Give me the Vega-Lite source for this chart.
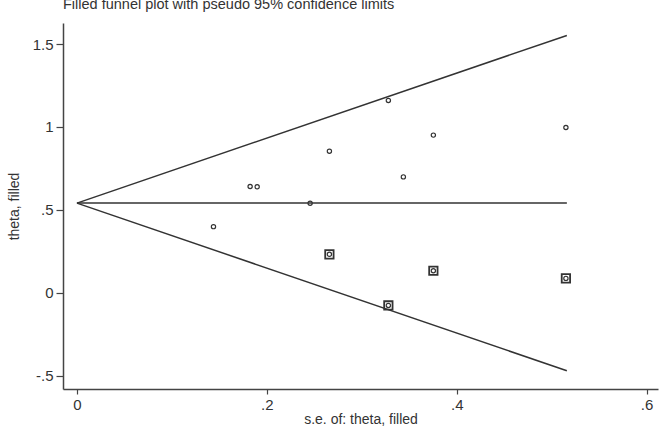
{
  "$schema": "https://vega.github.io/schema/vega-lite/v6.json",
  "autosize": {"type": "none"},
  "padding": {"left": 63, "top": 23, "right": 11, "bottom": 40},
  "width": 595,
  "height": 366,
  "background": "white",
  "title": {
    "text": "Filled funnel plot with pseudo 95% confidence limits",
    "anchor": "start",
    "frame": "group",
    "offset": 0,
    "dy": 3,
    "baseline": "bottom",
    "font": "Liberation Sans",
    "fontSize": 14.5,
    "fontWeight": "normal",
    "color": "#333"
  },
  "datasets": {
    "funnel": [
      {"series": "upper", "se": 0, "theta": 0.541},
      {"series": "upper", "se": 0.516, "theta": 1.552},
      {"series": "center", "se": 0, "theta": 0.541},
      {"series": "center", "se": 0.516, "theta": 0.541},
      {"series": "lower", "se": 0, "theta": 0.541},
      {"series": "lower", "se": 0.516, "theta": -0.470}
    ],
    "studies": [
      {"se": 0.1438, "theta": 0.399, "kind": "observed"},
      {"se": 0.1824, "theta": 0.641, "kind": "observed"},
      {"se": 0.1898, "theta": 0.639, "kind": "observed"},
      {"se": 0.2456, "theta": 0.540, "kind": "observed"},
      {"se": 0.2659, "theta": 0.854, "kind": "observed"},
      {"se": 0.328, "theta": 1.160, "kind": "observed"},
      {"se": 0.3438, "theta": 0.699, "kind": "observed"},
      {"se": 0.3754, "theta": 0.951, "kind": "observed"},
      {"se": 0.515, "theta": 0.997, "kind": "observed"},
      {"se": 0.2659, "theta": 0.232, "kind": "filled"},
      {"se": 0.328, "theta": -0.076, "kind": "filled"},
      {"se": 0.3754, "theta": 0.133, "kind": "filled"},
      {"se": 0.515, "theta": 0.087, "kind": "filled"}
    ]
  },
  "layer": [
    {
      "data": {"name": "funnel"},
      "mark": {"type": "line", "color": "#333", "strokeWidth": 1.5, "clip": true},
      "encoding": {
        "x": {
          "field": "se",
          "type": "quantitative",
          "scale": {"domain": [-0.0147, 0.612], "nice": false, "zero": false},
          "axis": {
            "values": [0, 0.2, 0.4, 0.6],
            "labelExpr": "datum.value == 0 ? '0' : datum.value < 0.3 ? '.2' : datum.value < 0.5 ? '.4' : '.6'",
            "title": "s.e. of: theta, filled",
            "grid": false,
            "tickSize": 5,
            "labelPadding": 3,
            "titlePadding": 0
          }
        },
        "y": {
          "field": "theta",
          "type": "quantitative",
          "scale": {"domain": [-0.58, 1.627], "nice": false, "zero": false},
          "axis": {
            "values": [-0.5, 0, 0.5, 1, 1.5],
            "labelExpr": "datum.value == 0.5 ? '.5' : datum.value == -0.5 ? '-.5' : datum.value == 1.5 ? '1.5' : datum.value == 1 ? '1' : '0'",
            "title": "theta, filled",
            "grid": false,
            "tickSize": 7,
            "labelPadding": 3,
            "titlePadding": 11
          }
        },
        "detail": {"field": "series"}
      }
    },
    {
      "data": {"name": "studies"},
      "transform": [{"filter": "datum.kind == 'filled'"}],
      "mark": {"type": "point", "shape": "square", "filled": false, "size": 70, "stroke": "#333", "strokeWidth": 1.8, "opacity": 1},
      "encoding": {
        "x": {"field": "se", "type": "quantitative"},
        "y": {"field": "theta", "type": "quantitative"}
      }
    },
    {
      "data": {"name": "studies"},
      "mark": {"type": "point", "shape": "circle", "filled": false, "size": 18, "stroke": "#333", "strokeWidth": 1.2, "opacity": 1},
      "encoding": {
        "x": {"field": "se", "type": "quantitative"},
        "y": {"field": "theta", "type": "quantitative"}
      }
    }
  ],
  "config": {
    "view": {"stroke": null},
    "axis": {
      "domainColor": "#444",
      "domainWidth": 1.5,
      "tickColor": "#444",
      "tickWidth": 1.2,
      "labelFont": "Liberation Sans",
      "labelFontSize": 15,
      "labelColor": "#333",
      "titleFont": "Liberation Sans",
      "titleFontSize": 14,
      "titleFontWeight": "normal",
      "titleColor": "#333"
    }
  }
}
